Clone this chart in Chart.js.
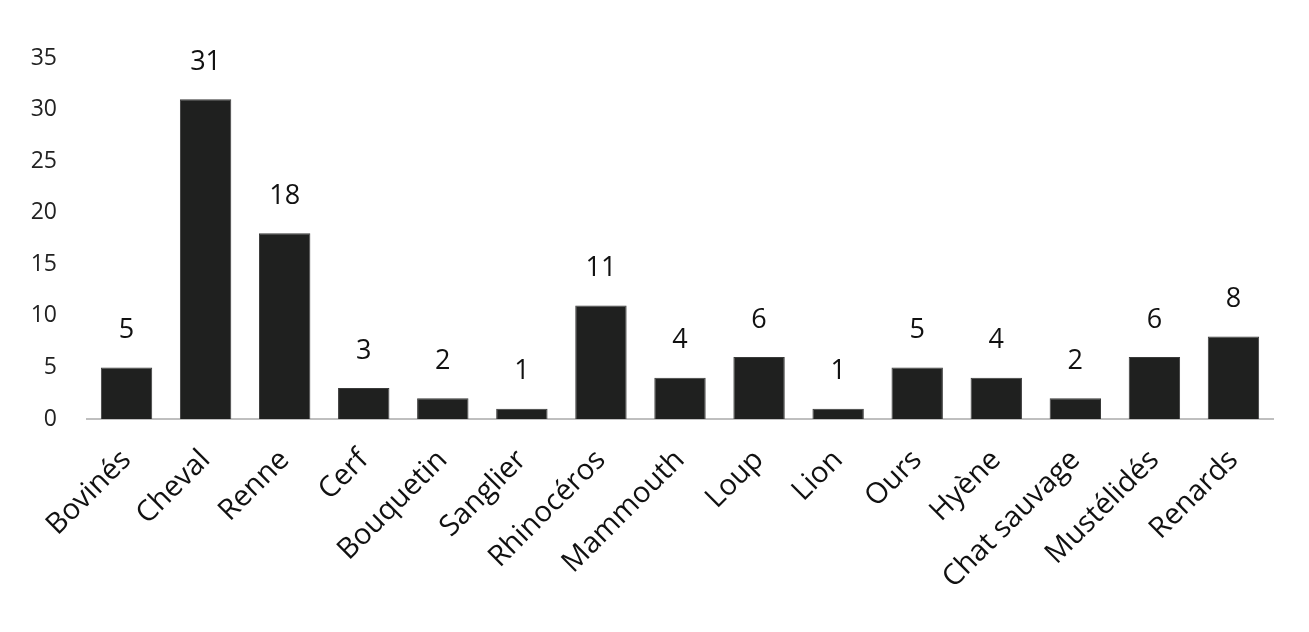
<!DOCTYPE html>
<html>
<head>
<meta charset="utf-8">
<script src="https://cdn.jsdelivr.net/npm/chart.js@4"></script>
<style>
  html, body { margin: 0; padding: 0; background: #fff; }
  #wrap { width: 1309px; height: 632px; }
</style>
</head>
<body>
<div id="wrap"><canvas id="myChart" width="1309" height="632"></canvas></div>
<script>
const categories = ["Bovinés", "Cheval", "Renne", "Cerf", "Bouquetin", "Sanglier", "Rhinocéros",
  "Mammouth", "Loup", "Lion", "Ours", "Hyène", "Chat sauvage", "Mustélidés", "Renards"];
const values = [5, 31, 18, 3, 2, 1, 11, 4, 6, 1, 5, 4, 2, 6, 8];
const yTicks = [0, 5, 10, 15, 20, 25, 30, 35];

const police = "'Open Sans', 'Noto Sans', sans-serif";

// valeurs au-dessus des barres
const etiquettes = {
  id: "etiquettes",
  afterDatasetsDraw(chart) {
    const ctx = chart.ctx;
    const meta = chart.getDatasetMeta(0);
    ctx.save();
    ctx.font = "27px " + police;
    ctx.fillStyle = "#111";
    ctx.textAlign = "center";
    ctx.textBaseline = "middle";
    meta.data.forEach((bar, i) => {
      ctx.fillText(values[i], bar.x, bar.y - 37);
    });
    ctx.restore();
  }
};

const ctx = document.getElementById("myChart").getContext("2d");
new Chart(ctx, {
  type: "bar",
  data: {
    labels: categories,
    datasets: [{
      data: values,
      backgroundColor: "#1f201f",
      borderColor: "#3a3a3a",
      borderWidth: 1,
      categoryPercentage: 1,
      barPercentage: 0.65
    }]
  },
  options: {
    responsive: false,
    animation: false,
    layout: { padding: { top: 58, right: 36, left: 0, bottom: 0 } },
    plugins: { legend: { display: false }, tooltip: { enabled: false } },
    scales: {
      x: {
        grid: { display: false, drawTicks: false },
        border: { display: true, color: "#bfbfbf", width: 2 },
        ticks: {
          color: "#111",
          font: { family: police, size: 29 },
          maxRotation: 45,
          minRotation: 45,
          padding: 24,
          autoSkip: false
        },
        afterFit(axis) { axis.height = 632 - 419; }
      },
      y: {
        min: 0,
        max: 35,
        afterBuildTicks(axis) { axis.ticks = yTicks.map(v => ({ value: v })); },
        grid: { display: false, drawTicks: false },
        border: { display: false },
        ticks: {
          color: "#222",
          font: { family: police, size: 23 },
          padding: 30
        },
        afterFit(axis) { axis.width = 87; }
      }
    }
  },
  plugins: [etiquettes]
});
</script>
</body>
</html>
